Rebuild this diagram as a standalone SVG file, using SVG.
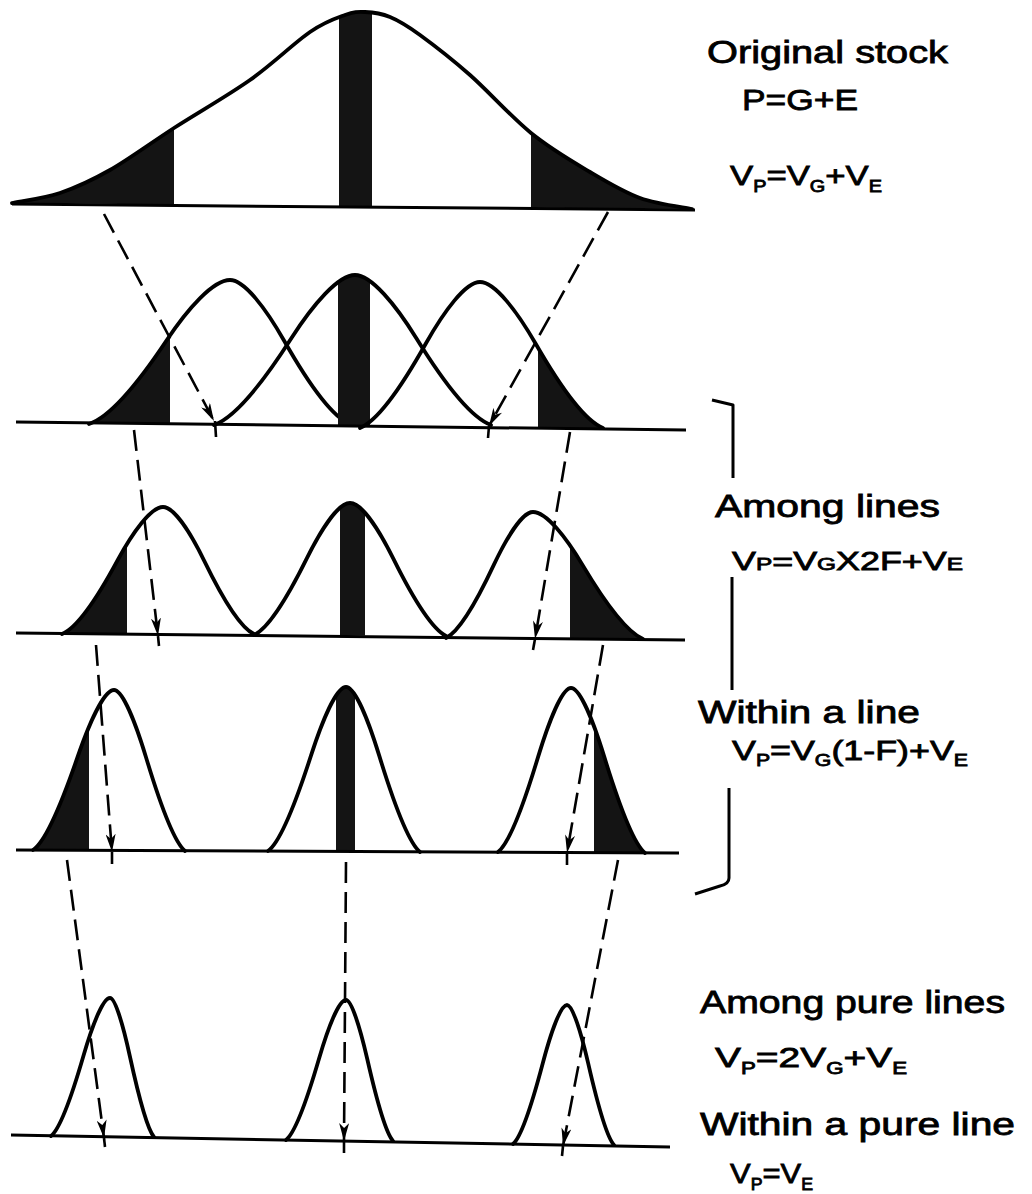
<svg xmlns="http://www.w3.org/2000/svg" xmlns:xlink="http://www.w3.org/1999/xlink" width="1032" height="1194" viewBox="0 0 1032 1194">
<style>
.curve{fill:none;stroke:#000;stroke-width:3.8;stroke-linejoin:round;stroke-linecap:round}
.base{fill:none;stroke:#000;stroke-width:3}
.shade{fill:#141414}
.dash{fill:none;stroke:#000;stroke-width:2.6;stroke-dasharray:21 9}
.tick{fill:none;stroke:#000;stroke-width:2.6}
.brk{fill:none;stroke:#000;stroke-width:3;stroke-linejoin:round}
.lbl{font-family:"Liberation Sans",Arial,sans-serif;fill:#000;stroke:#000;stroke-width:0.8}
</style>
<defs>
<marker id="ah" viewBox="0 0 18 10" markerWidth="18" markerHeight="10" refX="18" refY="5" orient="auto" markerUnits="userSpaceOnUse">
<path d="M0,0 L18,5 L0,10 L5,5 Z" fill="#000"/>
</marker>
<path id="c1" d="M12,203 C20,201.3 43.7,198.5 60,193 C76.3,187.5 91,180.8 110,170 C129,159.2 150.7,143 174,128 C197.3,113 227.3,96 250,80 C272.7,64 294.2,42.8 310,32 C325.8,21.2 335.8,18.3 345,15 C354.2,11.7 357.5,11.7 365,12 C372.5,12.3 380.8,13.2 390,17 C399.2,20.8 406.7,25.3 420,35 C433.3,44.7 451.5,58.7 470,75 C488.5,91.3 511,116.8 531,133 C551,149.2 571.8,161.2 590,172 C608.2,182.8 623,191.8 640,198 C657,204.2 683.3,207.2 692,209"/>
<path id="c2a" d="M89,424 C114.4,415.4 145.4,372.2 166.5,340.5 C187.7,308.8 213.1,280 230,280 C244.4,280 266,308.8 284,340.5 C302,372.2 328.4,415.4 350,424"/>
<path id="c2b" d="M214,425 C239.4,416 270.4,371 291.5,338 C312.7,305 338.1,275 355,275 C371.3,275 395.8,305 416.2,338 C436.6,371 466.5,416 491,425"/>
<path id="c2c" d="M360,428 C381.6,419.2 408,375.4 426,343.3 C444,311.2 465.6,282 480,282 C494.8,282 516.9,311.2 535.4,343.3 C553.8,375.4 580.9,419.2 603,428"/>
<path id="c3a" d="M62,634 C80.2,626.4 102.4,588.3 117.5,560.3 C132.7,532.4 150.9,507 163,507 C173.9,507 190.3,532.4 204,560.3 C217.6,588.3 237.6,626.4 254,634"/>
<path id="c3b" d="M254,635 C271.3,627.1 292.4,587.5 306.8,558.4 C321.2,529.4 338.5,503 350,503 C361.5,503 378.8,529.4 393.2,558.4 C407.6,587.5 428.7,627.1 446,636"/>
<path id="c3c" d="M446,638 C461.7,630.4 480.8,592.6 493.8,564.9 C506.9,537.2 522.6,512 533,512 C546.2,512 566,537.2 582.5,564.9 C599,592.6 623.2,630.4 643,639"/>
<path id="c4a" d="M33,850 C47.6,840.4 65.4,792.4 77.5,757.2 C89.7,722 104.3,690 114,690 C122.5,690 135.3,722 146,757.2 C156.6,792.4 172.2,840.4 185,851"/>
<path id="c4b" d="M268,851 C282,841.2 299.2,792 310.9,755.9 C322.6,719.8 336.6,687 346,687 C354.9,687 368.2,719.8 379.3,755.9 C390.4,792 406.7,841.2 420,852"/>
<path id="c4c" d="M498,852 C511.1,842.2 527.2,793 538.1,756.9 C549.1,720.8 562.2,688 571,688 C579.9,688 593.2,720.8 604.3,756.9 C615.4,793 631.7,842.2 645,853"/>
<path id="c5a" d="M51,1136 C61.6,1127.7 74.6,1086.3 83.4,1056 C92.3,1025.6 102.9,998 110,998 C115.3,998 123.2,1025.6 129.8,1056 C136.4,1086.3 146.1,1127.7 154,1137"/>
<path id="c5b" d="M286,1140 C296.8,1131.6 310,1089.6 319,1058.8 C328,1028 338.8,1000 346,1000 C351.6,1000 360.1,1028 367.2,1058.8 C374.2,1089.6 384.5,1131.6 393,1141"/>
<path id="c5c" d="M513,1144 C522.7,1135.7 534.6,1094 542.7,1063.4 C550.8,1032.8 560.5,1005 567,1005 C572.6,1005 581.1,1032.8 588.2,1063.4 C595.2,1094 605.5,1135.7 614,1145"/>
<clipPath id="k1"><use xlink:href="#c1"/></clipPath>
<clipPath id="k2a"><use xlink:href="#c2a"/></clipPath>
<clipPath id="k2b"><use xlink:href="#c2b"/></clipPath>
<clipPath id="k2c"><use xlink:href="#c2c"/></clipPath>
<clipPath id="k3a"><use xlink:href="#c3a"/></clipPath>
<clipPath id="k3b"><use xlink:href="#c3b"/></clipPath>
<clipPath id="k3c"><use xlink:href="#c3c"/></clipPath>
<clipPath id="k4a"><use xlink:href="#c4a"/></clipPath>
<clipPath id="k4b"><use xlink:href="#c4b"/></clipPath>
<clipPath id="k4c"><use xlink:href="#c4c"/></clipPath>
</defs>
<rect width="1032" height="1194" fill="#fff"/>

<g id="original-stock">
<g clip-path="url(#k1)">
<rect class="shade" x="0" y="0" width="174" height="215"/>
<rect class="shade" x="339" y="0" width="33" height="215"/>
<rect class="shade" x="531" y="0" width="175" height="215"/>
</g>
<use xlink:href="#c1" class="curve"/>
<line class="base" x1="12" y1="204" x2="695" y2="210"/>
</g>

<g id="lines-gen1">
<g id="line1-left">
<g clip-path="url(#k2a)"><rect class="shade" x="80" y="270" width="90" height="165"/></g>
<use xlink:href="#c2a" class="curve"/>
</g>
<g id="line1-mid">
<g clip-path="url(#k2b)"><rect class="shade" x="338" y="265" width="32" height="170"/></g>
<use xlink:href="#c2b" class="curve"/>
</g>
<g id="line1-right">
<g clip-path="url(#k2c)"><rect class="shade" x="538" y="270" width="75" height="165"/></g>
<use xlink:href="#c2c" class="curve"/>
</g>
<line class="base" x1="16" y1="422" x2="686" y2="430"/>
</g>

<g id="lines-gen2">
<g id="line2-left">
<g clip-path="url(#k3a)"><rect class="shade" x="55" y="500" width="72" height="145"/></g>
<use xlink:href="#c3a" class="curve"/>
</g>
<g id="line2-mid">
<g clip-path="url(#k3b)"><rect class="shade" x="340" y="495" width="25" height="150"/></g>
<use xlink:href="#c3b" class="curve"/>
</g>
<g id="line2-right">
<g clip-path="url(#k3c)"><rect class="shade" x="570" y="500" width="80" height="145"/></g>
<use xlink:href="#c3c" class="curve"/>
</g>
<line class="base" x1="16" y1="633" x2="685" y2="640"/>
</g>

<g id="lines-gen3">
<g id="line3-left">
<g clip-path="url(#k4a)"><rect class="shade" x="25" y="680" width="64" height="180"/></g>
<use xlink:href="#c4a" class="curve"/>
</g>
<g id="line3-mid">
<g clip-path="url(#k4b)"><rect class="shade" x="336" y="680" width="19" height="180"/></g>
<use xlink:href="#c4b" class="curve"/>
</g>
<g id="line3-right">
<g clip-path="url(#k4c)"><rect class="shade" x="594" y="680" width="60" height="180"/></g>
<use xlink:href="#c4c" class="curve"/>
</g>
<line class="base" x1="16" y1="850" x2="679" y2="853"/>
</g>

<g id="pure-lines">
<g id="pure-left"><use xlink:href="#c5a" class="curve"/></g>
<g id="pure-mid"><use xlink:href="#c5b" class="curve"/></g>
<g id="pure-right"><use xlink:href="#c5c" class="curve"/></g>
<line class="base" x1="11" y1="1135" x2="670" y2="1147"/>
</g>

<g id="connectors">
<path class="dash" d="M104,214 L214,421" marker-end="url(#ah)"/>
<path class="dash" d="M608,212 L489,426" marker-end="url(#ah)"/>
<path class="dash" d="M134,430 L158,636" marker-end="url(#ah)"/>
<path class="dash" d="M570,432 L535,639" marker-end="url(#ah)"/>
<path class="dash" d="M96,645 L112,852" marker-end="url(#ah)"/>
<path class="dash" d="M603,645 L567,853" marker-end="url(#ah)"/>
<path class="dash" d="M67,860 L104,1138" marker-end="url(#ah)"/>
<path class="dash" d="M346,862 L344,1141" marker-end="url(#ah)"/>
<path class="dash" d="M618,860 L563,1146" marker-end="url(#ah)"/>
<path class="tick" d="M215,421 L216,437"/>
<path class="tick" d="M489,426 L488,438"/>
<path class="tick" d="M158,636 L159,646"/>
<path class="tick" d="M535,639 L533,650"/>
<path class="tick" d="M112,852 L112,864"/>
<path class="tick" d="M567,853 L567,865"/>
<path class="tick" d="M104,1138 L105,1147"/>
<path class="tick" d="M344,1141 L344,1153"/>
<path class="tick" d="M563,1146 L562,1156"/>
</g>

<g id="bracket">
<path class="brk" d="M712,400 L733,405 L733,478"/>
<path class="brk" d="M732,577 L732,690"/>
<path class="brk" d="M729,788 L729,878 Q729,884 720,886 L695,894"/>
</g>

<g id="label-original">
<text class="lbl" x="707" y="63" font-size="31" textLength="241" lengthAdjust="spacingAndGlyphs">Original stock</text>
<text class="lbl" x="742" y="110" font-size="30" textLength="116" lengthAdjust="spacingAndGlyphs">P=G+E</text>
<text class="lbl" x="730" y="185" font-size="28" textLength="152" lengthAdjust="spacingAndGlyphs">V<tspan font-size="16" dy="7">P</tspan><tspan dy="-7">=V</tspan><tspan font-size="16" dy="7">G</tspan><tspan dy="-7">+V</tspan><tspan font-size="16" dy="7">E</tspan></text>
</g>

<g id="label-among-lines">
<text class="lbl" x="715" y="517" font-size="31" textLength="225" lengthAdjust="spacingAndGlyphs">Among lines</text>
<text class="lbl" x="732" y="570" font-size="25" textLength="231" lengthAdjust="spacingAndGlyphs">V<tspan font-size="17">P</tspan>=V<tspan font-size="17">G</tspan>X2F+V<tspan font-size="17">E</tspan></text>
</g>

<g id="label-within-line">
<text class="lbl" x="698" y="723" font-size="31" textLength="222" lengthAdjust="spacingAndGlyphs">Within a line</text>
<text class="lbl" x="732" y="760" font-size="27" textLength="236" lengthAdjust="spacingAndGlyphs">V<tspan font-size="16" dy="6">P</tspan><tspan dy="-6">=V</tspan><tspan font-size="16" dy="6">G</tspan><tspan dy="-6">(1-F)+V</tspan><tspan font-size="16" dy="6">E</tspan></text>
</g>

<g id="label-among-pure">
<text class="lbl" x="700" y="1013" font-size="31" textLength="305" lengthAdjust="spacingAndGlyphs">Among pure lines</text>
<text class="lbl" x="715" y="1067" font-size="28" textLength="192" lengthAdjust="spacingAndGlyphs">V<tspan font-size="16" dy="7">P</tspan><tspan dy="-7">=2V</tspan><tspan font-size="16" dy="7">G</tspan><tspan dy="-7">+V</tspan><tspan font-size="16" dy="7">E</tspan></text>
</g>

<g id="label-within-pure">
<text class="lbl" x="700" y="1135" font-size="31" textLength="315" lengthAdjust="spacingAndGlyphs">Within a pure line</text>
<text class="lbl" x="730" y="1183" font-size="28" textLength="83" lengthAdjust="spacingAndGlyphs">V<tspan font-size="16" dy="7">P</tspan><tspan dy="-7">=V</tspan><tspan font-size="16" dy="7">E</tspan></text>
</g>
</svg>
